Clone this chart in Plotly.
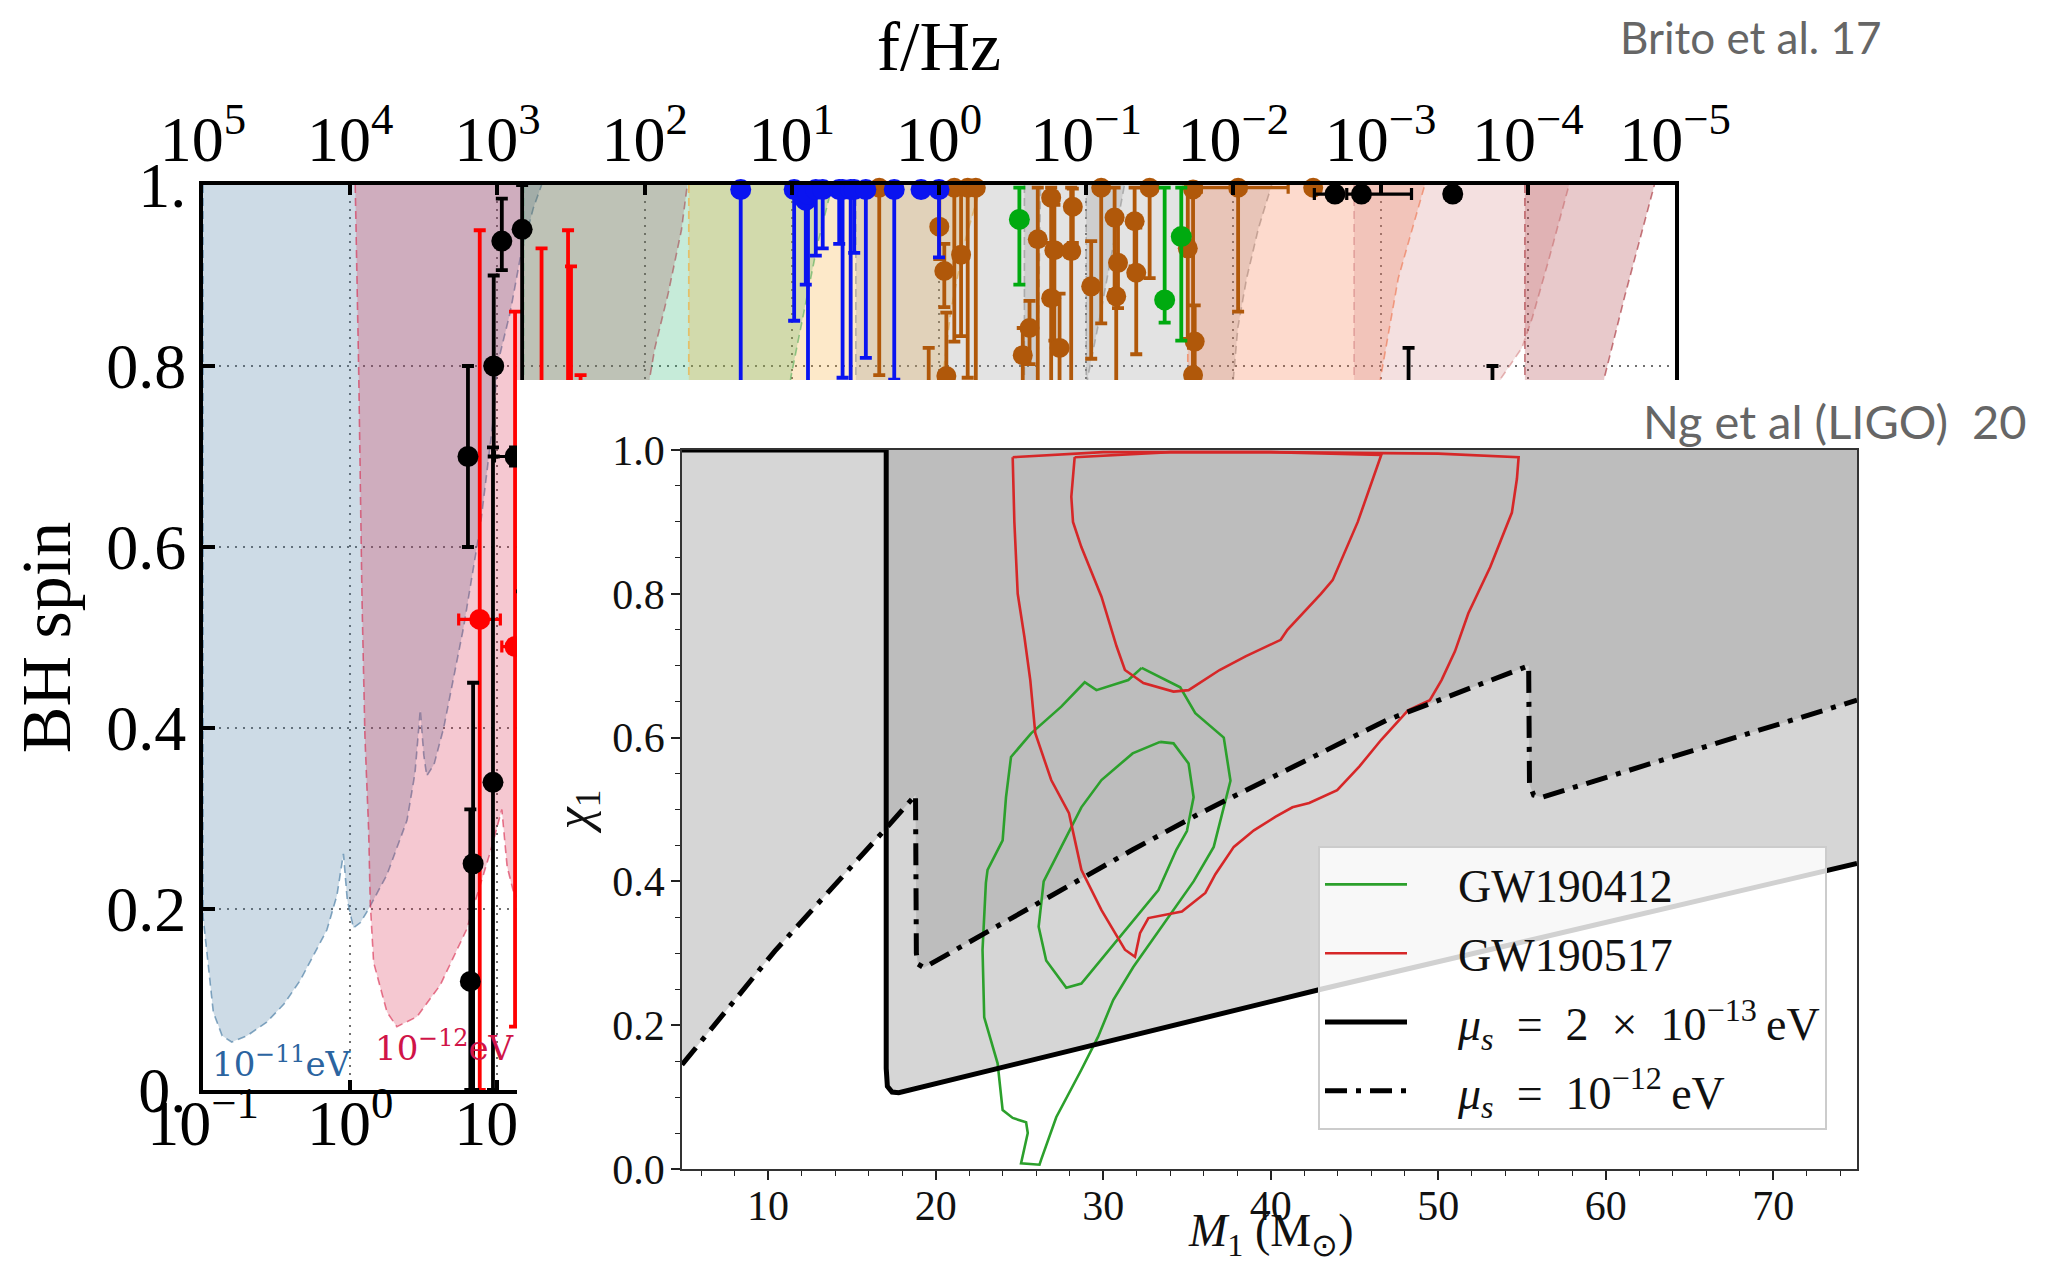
import plotly.graph_objects as go

W, H = 2056, 1274          # browser window
OFF = 8                    # page body margin
FW, FH = W - 2 * OFF, H - 2 * OFF
SERIF = "Liberation Serif"


def fx(px):
    return (px - OFF) / FW


def fy(py):
    return 1 - (py - OFF) / FH


# ====================== Background panel: Brito et al. 17 ======================
# Regge-plane exclusion regions: log10(M_BH / Msun) and BH spin
reg11_lm = [-1.0, -1.0, -0.93, -0.87, -0.805, -0.70, -0.567, -0.45, -0.34, -0.158, -0.09, -0.046, -0.02,
            0.022, 0.07, 0.125, 0.25, 0.386, 0.44, 0.476, 0.50, 0.52, 0.57, 0.635, 0.77, 0.884, 0.975,
            0.998, 1.088, 1.156, 1.245, 1.30]
reg11_a = [1.0, 0.192, 0.086, 0.06, 0.053, 0.06, 0.075, 0.095, 0.121, 0.177, 0.215, 0.261, 0.21,
           0.179, 0.185, 0.20, 0.238, 0.298, 0.35, 0.42, 0.37, 0.347, 0.36, 0.40, 0.511, 0.623, 0.745,
           0.80, 0.86, 0.92, 0.975, 1.0]
reg12_lm = [0.034, 0.057, 0.08, 0.10, 0.125, 0.136, 0.159, 0.25, 0.317, 0.454, 0.612, 0.79, 0.952, 1.03,
            1.066, 1.12, 1.25, 1.45, 1.6, 1.75, 1.9, 2.03, 2.07, 2.16, 2.25, 2.29]
reg12_a = [1.0, 0.80, 0.542, 0.39, 0.288, 0.207, 0.141, 0.086, 0.07, 0.081, 0.116, 0.177, 0.263, 0.31,
           0.247, 0.212, 0.24, 0.33, 0.42, 0.55, 0.66, 0.78, 0.82, 0.88, 0.95, 1.0]
reg13_lm = [1.177, 1.177, 2.95, 2.993, 3.084, 3.174, 3.265, 3.28]
reg13_a = [1.0, 0.72, 0.72, 0.787, 0.861, 0.934, 0.993, 1.0]
reg14_lm = [2.30, 2.30, 3.99, 4.025, 4.08, 4.17, 4.286]
reg14_a = [1.0, 0.72, 0.72, 0.787, 0.861, 0.934, 1.0]
reg15_lm = [3.435, 3.435, 4.66, 4.67, 4.69]
reg15_a = [1.0, 0.72, 0.72, 0.787, 1.0]
reg16_lm = [4.58, 4.58, 4.97, 5.01, 5.10, 5.18, 5.26]
reg16_a = [1.0, 0.72, 0.72, 0.787, 0.86, 0.93, 1.0]
reg17_lm = [5.0, 5.0, 5.97, 6.0, 6.03, 6.09, 6.17, 6.26]
reg17_a = [1.0, 0.72, 0.72, 0.787, 0.842, 0.897, 0.952, 1.0]
reg18_lm = [5.69, 5.69, 6.96, 7.0, 7.12, 7.30]
reg18_a = [1.0, 0.72, 0.72, 0.787, 0.897, 1.0]
reg19_lm = [6.82, 6.82, 7.78, 7.82, 7.96, 8.03, 8.14, 8.28]
reg19_a = [1.0, 0.72, 0.72, 0.787, 0.82, 0.853, 0.916, 1.0]
reg20_lm = [7.98, 7.98, 8.48, 8.52, 8.66, 8.78, 8.86]
reg20_a = [1.0, 0.72, 0.72, 0.787, 0.878, 0.95, 1.0]

region_colors = [(55, 111, 155), (215, 35, 71), (27, 175, 103), (247, 167, 39), (143, 143, 143),
                 (143, 143, 143), (143, 143, 143), (247, 107, 55), (211, 131, 131), (163, 39, 47)]

# measured BH spins (log10 M, spin, +err, -err, -xerr decades, +xerr decades)
blk_lm = [0.80, 0.835, 0.816, 0.975, 0.97, 1.12, 1.03, 1.168, 6.69, 6.87, 7.49, 7.19, 7.76]
blk_a = [0.70, 0.25, 0.12, 0.80, 0.34, 0.70, 0.938, 0.951, 0.99, 0.99, 0.99, 0.60, 0.55]
blk_ap = [0.10, 0.20, 0.19, 0.10, 0.37, 0.01, 0.047, 0.049, 0.0, 0.0, 0.0, 0.22, 0.25]
blk_am = [0.10, 0.25, 0.12, 0.10, 0.34, 0.01, 0.032, 0.40, 0.0, 0.0, 0.0, 0.20, 0.20]
blk_xm = [0, 0, 0, 0, 0, 0.14, 0, 0, 0.14, 0.10, 0.05, 0, 0]
blk_xp = [0, 0, 0, 0, 0, 0.10, 0, 0, 0.0, 0.34, 0.05, 0, 0]

red_lm = [0.88, 1.12, 1.30, 1.48, 1.50, 1.565]
red_a = [0.52, 0.49, 0.55, 0.60, 0.50, 0.50]
red_ap = [0.43, 0.37, 0.38, 0.35, 0.41, 0.29]
red_am = [0.52, 0.42, 0.30, 0.30, 0.30, 0.30]
red_xm = [0.143, 0.09, 0, 0, 0, 0]
red_xp = [0.14, 0.09, 0, 0, 0, 0]

blu_lm = [2.653, 3.016, 3.095, 3.11, 3.163, 3.21, 3.322, 3.345, 3.40, 3.424, 3.503, 3.696, 3.878, 4.0]
blu_a = [0.995, 0.995, 0.983, 0.99, 0.995, 0.995, 0.995, 0.995, 0.995, 0.995, 0.995, 0.995, 0.995, 0.995]
blu_ap = [0.005] * 14
blu_am = [0.40, 0.145, 0.093, 0.40, 0.073, 0.065, 0.06, 0.208, 0.40, 0.07, 0.186, 0.21, 0.0, 0.075]

brn_lm = [3.594, 4.104, 4.195, 4.25, 4.002, 4.036, 4.15, 4.05, 4.671, 4.762, 4.784, 4.909, 4.898, 4.762,
          4.615, 4.569, 4.819, 5.034, 5.193, 5.216, 5.204, 5.34, 5.329, 5.431, 5.102, 5.69, 5.726,
          6.032, 6.542, 5.737, 5.726, 3.93]
brn_a = [0.997, 0.997, 0.997, 0.997, 0.954, 0.905, 0.923, 0.789, 0.940, 0.986, 0.928, 0.976, 0.927, 0.875,
         0.842, 0.812, 0.82, 0.888, 0.964, 0.914, 0.877, 0.903, 0.96, 0.997, 0.997, 0.93, 0.995,
         0.997, 0.997, 0.827, 0.79, 0.70]
brn_ap = [0.003, 0.003, 0.003, 0.003, 0.036, 0.03, 0.067, 0.07, 0.057, 0.011, 0.05, 0.02, 0.07, 0.05,
          0.03, 0.03, 0.06, 0.05, 0.033, 0.05, 0.04, 0.05, 0.037, 0.003, 0.003, 0.067, 0.005,
          0.003, 0.003, 0.04, 0.03, 0.12]
brn_am = [0.207, 0.17, 0.21, 0.3, 0.036, 0.04, 0.09, 0.1, 0.2, 0.05, 0.1, 0.04, 0.15, 0.1,
          0.04, 0.03, 0.05, 0.08, 0.08, 0.05, 0.1, 0.09, 0.05, 0.1, 0.15, 0.1, 0.2,
          0.137, 0.0, 0.04, 0.1, 0.1]
brn_xm = [0] * 27 + [0.25, 0.0, 0, 0, 0]
brn_xp = [0] * 27 + [0.34, 0.0, 0, 0, 0]

grn_lm = [4.546, 5.533, 5.646]
grn_a = [0.962, 0.873, 0.943]
grn_ap = [0.035, 0.124, 0.054]
grn_am = [0.072, 0.025, 0.115]
grn_xm = [0.03, 0.02, 0.02]
grn_xp = [0.03, 0.02, 0.02]

bottom_ticks = list(range(-1, 10))
top_ticks = list(range(5, -6, -1))
spin_ticks = [0, 0.2, 0.4, 0.6, 0.8, 1.0]
spin_labels = ["0.", "0.2", "0.4", "0.6", "0.8", "1."]

# ====================== Inset panel: Ng et al (LIGO) 20 ======================
solid_m = [4.86, 17.05, 17.05, 17.12, 17.4, 17.8, 43.0, 75.0]
solid_chi = [1.0, 1.0, 0.14, 0.115, 0.107, 0.106, 0.25, 0.425]
dd_m = [4.86, 10.4, 17.05, 18.8, 18.85, 18.95, 19.3, 25.66, 31.76, 35.8, 46.9, 55.4, 55.45, 55.7, 56.2, 65.2, 75.0]
dd_chi = [0.145, 0.303, 0.474, 0.52, 0.30, 0.285, 0.28, 0.364, 0.444, 0.495, 0.624, 0.70, 0.535, 0.52, 0.517, 0.582, 0.652]

gw517_out_m = [24.6, 24.7, 24.9, 25.3, 25.65, 25.95, 26.9, 27.96, 28.4, 28.7, 29.9, 31.3, 31.9, 32.2, 32.7,
               33.6, 34.7, 36.1, 36.7, 37.8, 39.0, 40.3, 41.3, 42.3, 43.97, 45.3, 46.6, 48.2, 49.5, 50.2,
               51.0, 51.8, 53.1, 54.4, 54.7, 54.8, 50.0, 40.0, 30.0, 24.6]
gw517_out_c = [0.99, 0.90, 0.80, 0.74, 0.68, 0.606, 0.541, 0.495, 0.448, 0.416, 0.36, 0.305, 0.295, 0.328, 0.349,
               0.353, 0.358, 0.384, 0.41, 0.448, 0.471, 0.49, 0.503, 0.509, 0.527, 0.56, 0.597, 0.638, 0.652, 0.68,
               0.72, 0.773, 0.837, 0.913, 0.96, 0.99, 0.995, 0.997, 0.997, 0.99]
gw517_in_m = [28.3, 28.1, 28.2, 28.7, 29.9, 30.8, 31.3, 32.4, 34.2, 35.1, 36.95, 38.5, 40.6, 41.0, 43.0, 43.7,
              45.2, 46.6, 40.0, 34.0, 28.3]
gw517_in_c = [0.99, 0.935, 0.90, 0.865, 0.796, 0.727, 0.694, 0.676, 0.664, 0.666, 0.694, 0.713, 0.736, 0.75,
              0.80, 0.819, 0.90, 0.993, 0.997, 0.997, 0.99]
gw412_out_m = [32.3, 33.7, 34.6, 35.5, 37.2, 37.6, 37.1, 36.6, 35.4, 33.9, 31.8, 30.6, 29.7, 28.7, 27.2, 26.3,
               26.2, 25.1, 25.5, 25.4, 24.6, 24.0, 23.7, 22.9, 22.8, 23.0, 23.1, 24.0, 24.2, 24.5, 25.7, 27.5,
               28.9, 29.6, 31.5, 32.3]
gw412_out_c = [0.697, 0.68, 0.67, 0.634, 0.60, 0.54, 0.495, 0.448, 0.40, 0.35, 0.281, 0.235, 0.184, 0.138,
               0.072, 0.013, 0.006, 0.008, 0.05, 0.065, 0.071, 0.082, 0.147, 0.211, 0.305, 0.398, 0.416, 0.457,
               0.517, 0.573, 0.606, 0.643, 0.677, 0.666, 0.68, 0.697]
gw412_in_m = [33.4, 34.2, 35.1, 35.4, 35.0, 34.37, 33.3, 31.2, 28.7, 27.8, 26.6, 26.15, 26.45, 27.5, 28.7,
              29.9, 31.76, 33.4]
gw412_in_c = [0.594, 0.592, 0.564, 0.517, 0.47, 0.444, 0.388, 0.328, 0.258, 0.252, 0.29, 0.337, 0.40, 0.448,
              0.503, 0.541, 0.578, 0.594]


def rgba(c, a):
    return "rgba(%d,%d,%d,%.2f)" % (c[0], c[1], c[2], a)


def pow10(k):
    return "10<sup>" + (str(k) if k >= 0 else "\u2212" + str(-k)) + "</sup>"


fig = go.Figure()

# ---- background regions
regions = [(reg11_lm, reg11_a), (reg12_lm, reg12_a), (reg13_lm, reg13_a), (reg14_lm, reg14_a),
           (reg15_lm, reg15_a), (reg16_lm, reg16_a), (reg17_lm, reg17_a), (reg18_lm, reg18_a),
           (reg19_lm, reg19_a), (reg20_lm, reg20_a)]
for (lm, a), c in zip(regions, region_colors):
    fig.add_trace(go.Scatter(
        x=[10 ** v for v in lm], y=a, mode="lines", fill="toself",
        fillcolor=rgba(c, 0.25), line=dict(color=rgba(c, 0.6), width=1.6, dash="8px,5px"),
        xaxis="x", yaxis="y", showlegend=False, hoverinfo="skip"))


def add_points(lm, a, ap, am, xm, xp, color, size):
    x = [10 ** v for v in lm]
    ex_p = [10 ** (v + d) - 10 ** v for v, d in zip(lm, xp)]
    ex_m = [10 ** v - 10 ** (v - d) for v, d in zip(lm, xm)]
    fig.add_trace(go.Scatter(
        x=x, y=a, mode="markers", marker=dict(color=color, size=size, line=dict(width=0)),
        error_y=dict(type="data", symmetric=False, array=ap, arrayminus=am,
                     color=color, thickness=3.8, width=6),
        error_x=dict(type="data", symmetric=False, array=ex_p, arrayminus=ex_m,
                     color=color, thickness=3.2, width=6),
        cliponaxis=False, xaxis="x", yaxis="y", showlegend=False, hoverinfo="skip"))


add_points(brn_lm, brn_a, brn_ap, brn_am, brn_xm, brn_xp, "#b0580a", 20)
add_points(blu_lm, blu_a, blu_ap, blu_am, [0] * len(blu_lm), [0] * len(blu_lm), "#0a14f0", 21)
add_points(grn_lm, grn_a, grn_ap, grn_am, grn_xm, grn_xp, "#00aa10", 21)
add_points(red_lm, red_a, red_ap, red_am, red_xm, red_xp, "#ff0000", 21)
add_points(blk_lm, blk_a, blk_ap, blk_am, blk_xm, blk_xp, "black", 21)

# top frequency axis carrier
fig.add_trace(go.Scatter(x=[10.0 ** top_ticks[0], 10.0 ** top_ticks[-1]], y=[None, None], mode="markers",
                         xaxis="x2", yaxis="y", showlegend=False, hoverinfo="skip"))
# white panel of the inset figure
fig.add_trace(go.Scatter(x=[0.5], y=[0.5], mode="markers", marker=dict(opacity=0),
                         xaxis="x3", yaxis="y3", showlegend=False, hoverinfo="skip"))

# ---- inset: shaded exclusion regions
GREYFILL = "rgba(150,150,150,0.39)"
fig.add_trace(go.Scatter(x=solid_m + [solid_m[-1]], y=solid_chi + [1.0], mode="none", fill="toself",
                         fillcolor=GREYFILL, xaxis="x4", yaxis="y4", showlegend=False, hoverinfo="skip"))
fig.add_trace(go.Scatter(x=dd_m + [dd_m[-1], dd_m[0]], y=dd_chi + [1.0, 1.0], mode="none", fill="toself",
                         fillcolor=GREYFILL, xaxis="x4", yaxis="y4", showlegend=False, hoverinfo="skip"))

# contours and limit curves
GREEN, RED = "#2ca02c", "#d62728"
SP = "\u2002"
LEAD = "\u2003"
fig.add_trace(go.Scatter(x=gw412_out_m, y=gw412_out_c, mode="lines", line=dict(color=GREEN, width=2.6),
                         name=LEAD + "GW190412", legendgroup="a", legendrank=1, xaxis="x4", yaxis="y4",
                         hoverinfo="skip"))
fig.add_trace(go.Scatter(x=gw412_in_m, y=gw412_in_c, mode="lines", line=dict(color=GREEN, width=2.6),
                         name="GW190412", legendgroup="a", showlegend=False, xaxis="x4", yaxis="y4", hoverinfo="skip"))
fig.add_trace(go.Scatter(x=gw517_out_m, y=gw517_out_c, mode="lines", line=dict(color=RED, width=2.6),
                         name=LEAD + "GW190517", legendgroup="b", legendrank=2, xaxis="x4", yaxis="y4",
                         hoverinfo="skip"))
fig.add_trace(go.Scatter(x=gw517_in_m, y=gw517_in_c, mode="lines", line=dict(color=RED, width=2.6),
                         name="GW190517", legendgroup="b", showlegend=False, xaxis="x4", yaxis="y4", hoverinfo="skip"))
fig.add_trace(go.Scatter(x=solid_m, y=solid_chi, mode="lines", line=dict(color="black", width=5),
                         name=LEAD + "<i>\u03bc<sub>s</sub></i>" + SP + "=" + SP + "2" + SP + "\u00d7" + SP +
                              "10<sup>\u221213</sup>\u2009eV",
                         legendgroup="c", legendrank=3, xaxis="x4", yaxis="y4", hoverinfo="skip"))
fig.add_trace(go.Scatter(x=dd_m, y=dd_chi, mode="lines",
                         line=dict(color="black", width=5, dash="22px,9px,5px,9px"),
                         name=LEAD + "<i>\u03bc<sub>s</sub></i>" + SP + "=" + SP + "10<sup>\u221212</sup>\u2009eV",
                         legendgroup="d", legendrank=4, xaxis="x4", yaxis="y4", hoverinfo="skip"))

bg_font = dict(family=SERIF, size=64, color="black")
in_font = dict(family=SERIF, size=42, color="#111111")

fig.update_layout(
    template="none",
    width=FW, height=FH, autosize=False, margin=dict(l=0, r=0, t=0, b=0, autoexpand=False),
    paper_bgcolor="white", plot_bgcolor="white",
    xaxis=dict(type="log", range=[-1, 9], domain=[fx(203), fx(1675)], anchor="y", automargin=False,
               tickvals=[10.0 ** k for k in bottom_ticks], ticktext=[pow10(k) for k in bottom_ticks],
               ticks="inside", ticklen=10, tickwidth=4, tickcolor="black",
               showline=True, linewidth=4, linecolor="black", mirror=True,
               showgrid=True, gridcolor="#707070", gridwidth=2, griddash="2px,6px", zeroline=False,
               tickfont=bg_font, ticklabelstandoff=-26),
    xaxis2=dict(type="log", range=[5, -5], overlaying="x", side="top", anchor="y", automargin=False,
                tickvals=[10.0 ** k for k in top_ticks], ticktext=[pow10(k) for k in top_ticks],
                ticks="inside", ticklen=10, tickwidth=4, tickcolor="black",
                showline=False, showgrid=False, zeroline=False, tickfont=bg_font, ticklabelstandoff=10,
                title=dict(text="f/Hz", font=dict(family=SERIF, size=70, color="black"), standoff=16)),
    yaxis=dict(range=[0, 1], domain=[fy(1090), fy(185)], anchor="x", automargin=False,
               tickvals=spin_ticks, ticktext=spin_labels,
               ticks="inside", ticklen=12, tickwidth=4, tickcolor="black",
               showline=True, linewidth=4, linecolor="black", mirror=True,
               showgrid=True, gridcolor="#707070", gridwidth=2, griddash="2px,6px", zeroline=False,
               tickfont=dict(family=SERIF, size=64, color="black"), ticklabelstandoff=0,
               title=dict(text="BH spin", font=dict(family=SERIF, size=70, color="black"), standoff=18)),
    xaxis3=dict(domain=[fx(517), 1.0], anchor="y3", range=[0, 1], visible=False, automargin=False),
    yaxis3=dict(domain=[0.0, fy(380)], anchor="x3", range=[0, 1], visible=False, automargin=False),
    xaxis4=dict(domain=[fx(682), fx(1857)], anchor="y4", range=[4.86, 75], tickmode="linear", tick0=0, dtick=10,
                automargin=False,
                ticks="outside", ticklen=9, tickwidth=1.5, tickcolor="#222222",
                minor=dict(ticks="outside", ticklen=5, tickwidth=1, tickcolor="#222222", tick0=0, dtick=2),
                showline=True, linecolor="#333333", linewidth=1.5, mirror=True, showgrid=False, zeroline=False,
                tickfont=in_font, ticklabelstandoff=-10),
    yaxis4=dict(domain=[fy(1169), fy(450)], anchor="x4", range=[0, 1.0], tickmode="linear", tick0=0,
                dtick=0.2, tickformat=".1f", automargin=False,
                ticks="outside", ticklen=9, tickwidth=1.5, tickcolor="#222222",
                minor=dict(ticks="outside", ticklen=5, tickwidth=1, tickcolor="#222222", tick0=0, dtick=0.05),
                showline=True, linecolor="#333333", linewidth=1.5, mirror=True, showgrid=False, zeroline=False,
                tickfont=in_font, ticklabelstandoff=-2,
                title=dict(text="<i>\u03c7</i><sub>1</sub>", font=dict(family=SERIF, size=50, color="#111111"),
                           standoff=6)),
    showlegend=True,
    legend=dict(x=fx(1318), y=fy(846), xanchor="left", yanchor="top", traceorder="grouped",
                bgcolor="rgba(255,255,255,0.82)", bordercolor="#cccccc", borderwidth=2,
                font=dict(family=SERIF, size=46, color="#111111"), itemwidth=82, tracegroupgap=6),
    annotations=[
        dict(text="Brito et al. 17", x=fx(1750), y=fy(37), xref="paper", yref="paper", showarrow=False,
             xanchor="center", yanchor="middle", font=dict(family="Lato", size=44, color="#666666")),
        dict(text="Ng et al (LIGO)\u00a0\u00a020", x=fx(2029), y=fy(421), xref="paper", yref="paper",
             xanchor="right", yanchor="middle", showarrow=False,
             font=dict(family="Lato", size=47, color="#666666")),
        dict(text="10<sup>\u221211</sup>eV", x=fx(210), y=fy(1062), xref="paper", yref="paper",
             xanchor="left", yanchor="middle", showarrow=False,
             font=dict(family="DejaVu Serif", size=34, color="rgb(43,100,160)")),
        dict(text="10<sup>\u221212</sup>eV", x=fx(373), y=fy(1046), xref="paper", yref="paper",
             xanchor="left", yanchor="middle", showarrow=False,
             font=dict(family="DejaVu Serif", size=34, color="rgb(208,20,72)")),
        # inset x-axis title
        dict(text="<i>M</i><sub>1</sub> (M<sub>\u2299</sub>)", x=fx(1270), y=fy(1234), xref="paper",
             yref="paper", xanchor="center", yanchor="middle", showarrow=False,
             font=dict(family=SERIF, size=46, color="#111111")),
    ],
)

fig.write_html("out.html")
